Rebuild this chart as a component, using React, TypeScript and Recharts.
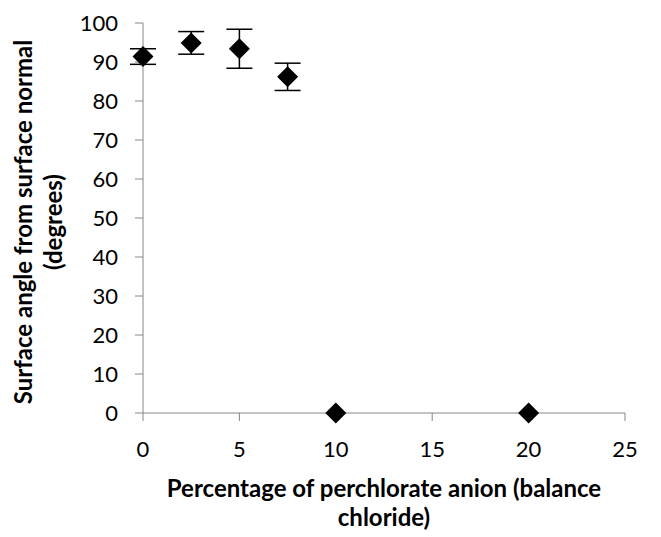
import React from "react";
import { ScatterChart, Scatter, XAxis, YAxis, ErrorBar } from "recharts";

// perchlorate percentage (x), surface angle (y) and error
const percent = [0, 2.5, 5, 7.5, 10, 20];
const angle = [91.4, 94.9, 93.4, 86.2, 0, 0];
const angleErr = [2.0, 2.9, 5.0, 3.5, 0, 0];
const xTicks = [0, 5, 10, 15, 20, 25];
const yTicks = [0, 10, 20, 30, 40, 50, 60, 70, 80, 90, 100];

const data = percent.map((x, i) => ({ x, y: angle[i], err: angleErr[i] }));

const font = "Lato, 'Open Sans', sans-serif";
const axisGray = "#868686";

function Diamond(props: any) {
  const { cx, cy } = props;
  const r = 10.5;
  return <polygon points={`${cx},${cy - r} ${cx + r},${cy} ${cx},${cy + r} ${cx - r},${cy}`} fill="#000" />;
}

function YTitle({ viewBox }: any) {
  const cy = viewBox.y + viewBox.height / 2 + 4;
  return (
    <g fontFamily={font} fontWeight={700} fontSize={24} fill="#000" textAnchor="middle">
      <text x={32} y={cy} transform={`rotate(-90, 32, ${cy})`}>
        Surface angle from surface normal
      </text>
      <text x={62} y={cy} transform={`rotate(-90, 62, ${cy})`}>
        (degrees)
      </text>
    </g>
  );
}

function XTitle({ viewBox }: any) {
  const cx = viewBox.x + viewBox.width / 2;
  return (
    <g fontFamily={font} fontWeight={700} fontSize={24} fill="#000" textAnchor="middle">
      <text x={cx} y={497}>Percentage of perchlorate anion (balance</text>
      <text x={cx} y={526}>chloride)</text>
    </g>
  );
}

export default function App() {
  return (
    <div style={{ position: "absolute", left: 0, top: 0, background: "#fff" }}>
      <ScatterChart width={661} height={537} margin={{ top: 23, right: 36, bottom: 0, left: 0 }}>
        <XAxis
          type="number"
          dataKey="x"
          domain={[0, 25]}
          ticks={xTicks}
          height={124}
          stroke={axisGray}
          tickSize={8}
          tickMargin={20}
          tick={{ fill: "#000", fontSize: 22, fontFamily: font }}
          label={<XTitle />}
        />
        <YAxis
          type="number"
          dataKey="y"
          domain={[0, 100]}
          ticks={yTicks}
          width={143}
          stroke={axisGray}
          tickSize={8}
          tickMargin={17}
          tick={{ fill: "#000", fontSize: 22, fontFamily: font }}
          label={<YTitle />}
        />
        <Scatter data={data} shape={<Diamond />} isAnimationActive={false}>
          <ErrorBar dataKey="err" direction="y" width={13} stroke="#000" strokeWidth={1.5} isAnimationActive={false} />
        </Scatter>
      </ScatterChart>
    </div>
  );
}
